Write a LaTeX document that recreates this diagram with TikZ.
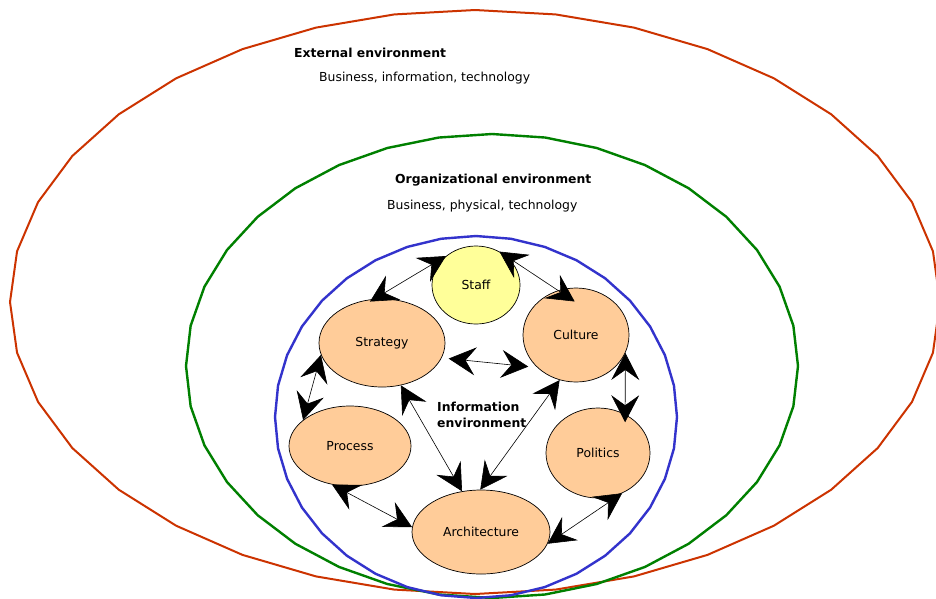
\documentclass[tikz,border=0pt]{standalone}
\usepackage{fontspec}
\setmainfont{DejaVu Sans}
\usetikzlibrary{arrows.meta,shapes.geometric}
\definecolor{redline}{HTML}{CC3300}
\definecolor{greenline}{HTML}{008000}
\definecolor{blueline}{HTML}{3333CC}
\definecolor{peach}{HTML}{FFCC99}
\definecolor{paleyellow}{HTML}{FFFF99}
\newcommand\lblfont{\fontsize{12.4}{16}\selectfont}
\begin{document}
\begin{tikzpicture}[x=1pt,y=-1pt,
  bubble/.style={ellipse,draw=black,line width=0.7pt,fill=peach,inner sep=0pt,font=\lblfont},
  dbl/.style={line width=0.6pt,{Stealth[length=27pt,width=28pt,inset=10pt]}-{Stealth[length=27pt,width=28pt,inset=10pt]}},
  title/.style={anchor=west,inner sep=0pt,font=\lblfont\bfseries},
  sub/.style={anchor=west,inner sep=0pt,font=\lblfont}]
\useasboundingbox (0,0) rectangle (936,598);
\fill[white] (0,0) rectangle (936,598);
% environment rings
\draw[redline,line width=2pt] plot[samples=37,domain=-90:270,variable=\t] ({475+465*cos(\t)},{302+292*sin(\t)}) -- cycle;
\draw[greenline,line width=2.4pt] plot[samples=37,domain=-90:270,variable=\t] ({492+306*cos(\t)},{366+232*sin(\t)}) -- cycle;
\draw[blueline,line width=2.4pt] plot[samples=37,domain=-90:270,variable=\t] ({476+201*cos(\t)},{417+181*sin(\t)}) -- cycle;
% labels
\node[title] (ext) at (294,53) {External environment};
\node[sub] (extsub) at (319,78) {Business, information, technology};
\node[title] (org) at (395,180) {Organizational environment};
\node[sub] (orgsub) at (387,206) {Business, physical, technology};
\node[title,align=left] (info) at (437,415) {Information\\environment};
% bubbles
\node[bubble,fill=paleyellow,minimum width=88pt,minimum height=78pt] (staff) at (476,285) {Staff};
\node[bubble,minimum width=126pt,minimum height=88pt] (strat) at (382,343) {Strategy};
\node[bubble,minimum width=106pt,minimum height=94pt] (cult) at (576,335) {Culture};
\node[bubble,minimum width=122pt,minimum height=80pt] (proc) at (350,446) {Process};
\node[bubble,minimum width=104pt,minimum height=90pt] (pol) at (598,453) {Politics};
\node[bubble,minimum width=138pt,minimum height=84pt] (arch) at (481,532) {Architecture};
% connectors
\draw[dbl,shorten <=-5pt] (strat.100) -- (staff.136);
\draw[dbl,shorten >=-20pt] (staff.55) -- (cult.112);
\draw[dbl,shorten <=7pt,shorten >=9pt] (strat.-14) -- (cult.220);
\draw[dbl] (strat.191) -- (proc.151);
\draw[dbl,shorten >=-8pt] (cult.-20) -- (pol.55);
\draw[dbl] (strat.-66) -- (arch.115);
\draw[dbl] (cult.250) -- (arch.91);
\draw[dbl] (proc.245) -- (arch.176);
\draw[dbl] (pol.-59) -- (arch.-10);
\end{tikzpicture}
\end{document}
